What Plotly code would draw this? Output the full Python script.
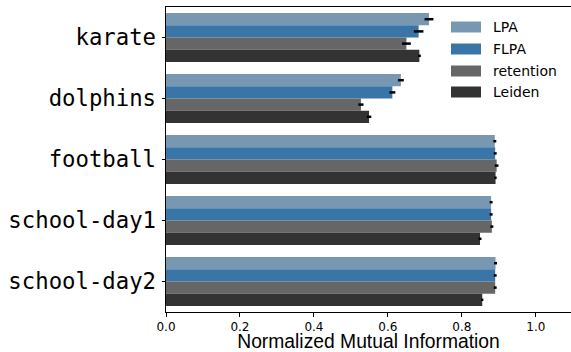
import plotly.graph_objects as go

datasets = ["karate", "dolphins", "football", "school-day1", "school-day2"]
methods = ["LPA", "FLPA", "retention", "Leiden"]
colors = ["#7898B2", "#3A75A7", "#666666", "#333333"]

nmi_lpa = [0.711, 0.635, 0.889, 0.879, 0.891]
nmi_flpa = [0.683, 0.612, 0.890, 0.879, 0.890]
nmi_retention = [0.650, 0.527, 0.894, 0.881, 0.890]
nmi_leiden = [0.685, 0.549, 0.891, 0.849, 0.855]

err_lpa = [0.012, 0.008, 0.004, 0.004, 0.004]
err_flpa = [0.013, 0.008, 0.004, 0.004, 0.004]
err_retention = [0.012, 0.007, 0.005, 0.004, 0.004]
err_leiden = [0.004, 0.006, 0.003, 0.004, 0.003]

values = [nmi_lpa, nmi_flpa, nmi_retention, nmi_leiden]
errors = [err_lpa, err_flpa, err_retention, err_leiden]

x_ticks = [0.0, 0.2, 0.4, 0.6, 0.8, 1.0]

fig = go.Figure()
for name, vals, errs, col in zip(methods, values, errors, colors):
    fig.add_trace(go.Bar(
        y=datasets, x=vals, name=name, orientation="h",
        marker=dict(color=col, line=dict(width=0)),
        error_x=dict(type="data", array=errs, color="black", thickness=2.5, width=0),
        showlegend=False,
    ))

# manual legend (matplotlib-style wide swatches)
L, T, PW, PH = 166, 7, 405, 305
leg_y = [27, 49, 71, 92]
for name, col, yc in zip(methods, colors, leg_y):
    fig.add_shape(type="rect", xref="paper", yref="paper",
                  x0=(451 - L) / PW, x1=(481 - L) / PW,
                  y0=1 - (yc - 5.5 - T) / PH, y1=1 - (yc + 5.5 - T) / PH,
                  fillcolor=col, line=dict(width=0), layer="above")
    fig.add_annotation(text=name, xref="paper", yref="paper",
                       x=(491 - L) / PW, y=1 - (yc - T) / PH,
                       xanchor="left", yanchor="middle", showarrow=False,
                       font=dict(family="DejaVu Sans", size=14, color="black"))

fig.update_layout(
    width=571, height=352,
    margin=dict(l=L, r=0, t=T, b=352 - T - PH),
    barmode="group", bargap=0.2, bargroupgap=0,
    plot_bgcolor="white", paper_bgcolor="white",
    xaxis=dict(
        range=[0, 1.095], tickvals=x_ticks, ticktext=[f"{v:.1f}" for v in x_ticks],
        showgrid=False, zeroline=False, automargin=False,
        showline=True, linecolor="black", linewidth=1, mirror=True,
        ticks="outside", ticklen=3.5, tickwidth=1, tickcolor="black",
        tickfont=dict(family="DejaVu Sans", size=12, color="black"),
        title=dict(text="Normalized Mutual Information", standoff=3,
                   font=dict(family="Liberation Sans, Arial", size=19.3, color="black")),
    ),
    yaxis=dict(
        range=[4.5, -0.5], showgrid=False, zeroline=False, automargin=False,
        showline=True, linecolor="black", linewidth=1, mirror=False,
        ticks="outside", ticklen=3.5, tickwidth=1, tickcolor="black",
        ticklabelstandoff=1,
        tickfont=dict(family="DejaVu Sans Mono", size=22.3, color="black"),
    ),
)

fig.write_html("out.html", config={"displayModeBar": False},
               post_script="document.body.style.margin='0';document.body.style.overflow='hidden';")
